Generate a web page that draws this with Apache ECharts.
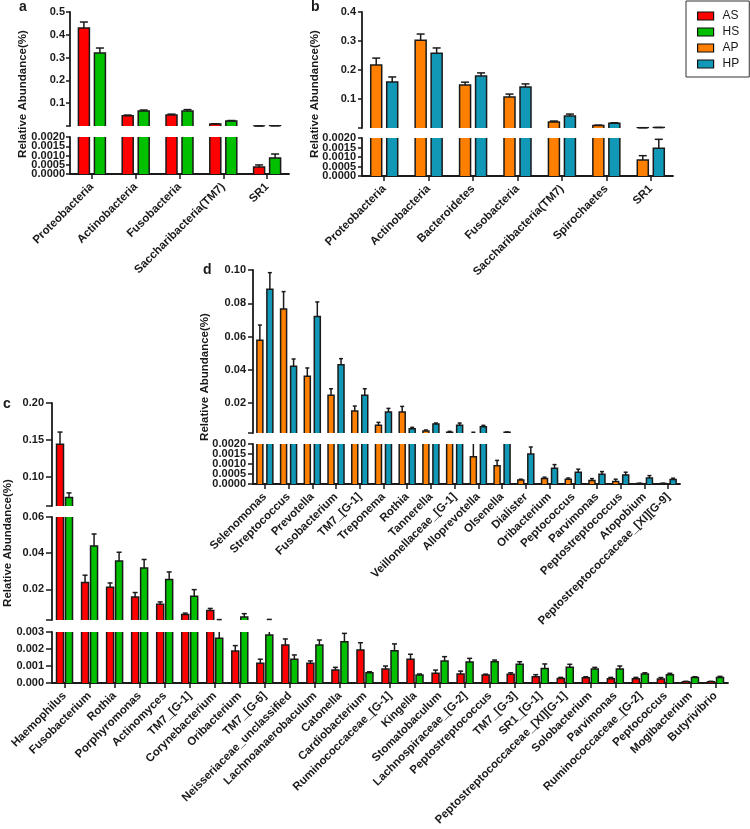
<!DOCTYPE html>
<html>
<head>
<meta charset="utf-8">
<script src="https://cdn.jsdelivr.net/npm/echarts@6/dist/echarts.min.js"></script>
<style>html,body{margin:0;padding:0;background:#fff}#chart{width:750px;height:829px}</style>
</head>
<body>
<div id="chart"></div>
<script>
// ---------- DATA ----------
const aCats = ['Proteobacteria','Actinobacteria','Fusobacteria','Saccharibacteria(TM7)','SR1'];
const aAS    = [0.430, 0.045, 0.048, 0.009, 0.00038];
const aASerr = [0.026, 0.003, 0.004, 0.001, 0.00011];
const aHS    = [0.320, 0.066, 0.066, 0.022, 0.00086];
const aHSerr = [0.022, 0.004, 0.006, 0.002, 0.00022];

const bCats = ['Proteobacteria','Actinobacteria','Bacteroidetes','Fusobacteria','Saccharibacteria(TM7)','Spirochaetes','SR1'];
const bAP    = [0.217, 0.303, 0.148, 0.107, 0.021, 0.009, 0.00084];
const bAPerr = [0.024, 0.021, 0.010, 0.010, 0.003, 0.001, 0.00023];
const bHP    = [0.159, 0.258, 0.179, 0.141, 0.041, 0.016, 0.00146];
const bHPerr = [0.017, 0.018, 0.011, 0.011, 0.007, 0.002, 0.00047];

const dCats = ['Selenomonas','Streptococcus','Prevotella','Fusobacterium','TM7_[G-1]','Treponema','Rothia','Tannerella','Veillonellaceae_[G-1]','Alloprevotella','Olsenella','Dialister','Oribacterium','Peptococcus','Parvimonas','Peptostreptococcus','Atopobium','Peptostreptococcaceae_[XI][G-9]'];
const dAP    = [0.0577, 0.0765, 0.0361, 0.0247, 0.0152, 0.0066, 0.0146, 0.0032, 0.0024, 0.00136, 0.00091, 0.0002, 0.00027, 0.00024, 0.00017, 0.00012, 0.00003, 0.00003];
const dAPerr = [0.0092, 0.0105, 0.0050, 0.0039, 0.0030, 0.0018, 0.0034, 0.0006, 0.0006, 0.0011, 0.00027, 0.00004, 0.00007, 0.00006, 0.0001, 0.00012, 0.00001, 0.00001];
const dHP    = [0.0884, 0.0421, 0.0720, 0.0431, 0.0247, 0.0146, 0.0046, 0.0074, 0.0066, 0.0057, 0.0025, 0.0015, 0.00079, 0.00059, 0.00049, 0.00045, 0.0003, 0.00022];
const dHPerr = [0.0100, 0.0044, 0.0088, 0.0036, 0.0039, 0.0022, 0.0008, 0.0006, 0.0014, 0.0009, 0.0001, 0.00035, 0.00018, 0.00015, 0.00013, 0.00014, 0.00012, 0.00007];

const cCats = ['Haemophilus','Fusobacterium','Rothia','Porphyromonas','Actinomyces','TM7_[G-1]','Corynebacterium','Oribacterium','TM7_[G-6]','Neisseriaceae_unclassified','Lachnoanaerobaculum','Catonella','Cardiobacterium','Ruminococcaceae_[G-1]','Kingella','Stomatobaculum','Lachnospiraceae_[G-2]','Peptostreptococcus','TM7_[G-3]','SR1_[G-1]','Peptostreptococcaceae_[XI][G-1]','Solobacterium','Parvimonas','Ruminococcaceae_[G-2]','Peptococcus','Mogibacterium','Butyrivibrio'];
const cAS    = [0.144, 0.0237, 0.0211, 0.0157, 0.0117, 0.0060, 0.0083, 0.00188, 0.00116, 0.00224, 0.00116, 0.00076, 0.00194, 0.00082, 0.00139, 0.00057, 0.00053, 0.00047, 0.00051, 0.00037, 0.00027, 0.00031, 0.00025, 0.00025, 0.00024, 0.00008, 0.00008];
const cASerr = [0.0165, 0.0041, 0.0024, 0.0025, 0.0013, 0.0008, 0.0011, 0.00032, 0.00024, 0.00035, 0.00014, 0.00016, 0.00043, 0.00018, 0.00030, 0.00019, 0.00017, 0.00005, 0.00009, 0.00012, 0.00006, 0.00006, 0.00008, 0.00008, 0.00008, 0.00002, 0.00002];
const cHS    = [0.0715, 0.0440, 0.0357, 0.0318, 0.0254, 0.0161, 0.00263, 0.0046, 0.00282, 0.0014, 0.00224, 0.00243, 0.0006, 0.0019, 0.00047, 0.0013, 0.00124, 0.00125, 0.0011, 0.00086, 0.00092, 0.00082, 0.00082, 0.00053, 0.00049, 0.00033, 0.00033];
const cHSerr = [0.0063, 0.0066, 0.0048, 0.0047, 0.0042, 0.0037, 0.0006, 0.0019, 0.0005, 0.00025, 0.00029, 0.00049, 0.00006, 0.0004, 0.00006, 0.00025, 0.00021, 0.0001, 0.00015, 0.00026, 0.00018, 0.0001, 0.00018, 0.00007, 0.00008, 0.00004, 0.00006];

const fineTicks = [0, 0.0005, 0.001, 0.0015, 0.002];
const legendNames = ['AS','HS','AP','HP'];
const yTitle = 'Relative Abundance(%)';

// ---------- STYLE ----------
const FONT = '"Liberation Sans", Arial, Helvetica, sans-serif';
const INK = '#1a1a1a';
const COLORS = {AS:'#ff0000', HS:'#00c000', AP:'#ff8000', HP:'#1198b6'};

const grids = [], xAxes = [], yAxes = [], extraY = [], series = [];

function outlineRender(barW, offset, capW) {
  return function (params, api) {
    const cat = api.value(0), v = api.value(1), e = api.value(2);
    const cs = params.coordSys;
    const top = cs.y, bot = cs.y + cs.height;
    const p = api.coord([cat, v]);
    const cx = p[0] + offset;
    const yv = p[1];
    const ye = api.coord([cat, v + e])[1];
    const xl = cx - barW / 2, xr = cx + barW / 2;
    const st = {stroke: INK, lineWidth: 1.5, fill: null};
    const ch = [];
    if (yv < bot) {
      if (yv >= top) {
        ch.push({type: 'polyline', shape: {points: [[xl, bot], [xl, yv], [xr, yv], [xr, bot]]}, style: st});
      } else {
        ch.push({type: 'line', shape: {x1: xl, y1: top, x2: xl, y2: bot}, style: st});
        ch.push({type: 'line', shape: {x1: xr, y1: top, x2: xr, y2: bot}, style: st});
      }
    }
    if (e > 0) {
      const y1 = Math.min(Math.max(yv, top), bot);
      const y2 = Math.min(Math.max(ye, top), bot);
      if (y1 - y2 > 0.1) {
        ch.push({type: 'line', shape: {x1: cx, y1: y1, x2: cx, y2: y2}, style: st});
      }
      if (ye >= top - 0.5 && ye <= bot) {
        ch.push({type: 'line', shape: {x1: cx - capW / 2, y1: ye, x2: cx + capW / 2, y2: ye}, style: st});
      }
    }
    return {type: 'group', children: ch};
  };
}

function labelStyle(s, p, values) {
  return {customValues: values, interval: 0, showMinLabel: true, showMaxLabel: true, hideOverlap: false,
    formatter: (v) => Number(v).toFixed(s.dec), fontSize: 11, fontWeight: 'bold', color: INK,
    margin: p.labMargin, fontFamily: FONT};
}

function addPanel(p) {
  const n = p.groups.length;
  const step = p.barW + p.gap;
  p.segs.forEach((s, si) => {
    const gi = grids.length;
    const isBottom = si === p.segs.length - 1;
    grids.push({left: p.left, top: s.top, width: p.width, height: s.bottom - s.top});
    xAxes.push({
      type: 'category', gridIndex: gi, data: p.cats, show: isBottom,
      axisLine: {show: true, lineStyle: {color: INK, width: 1.8}},
      axisTick: {show: true, alignWithLabel: true, length: 5, lineStyle: {color: INK, width: 1.5}},
      axisLabel: {rotate: 45, interval: 0, hideOverlap: false, fontSize: p.catFont, fontWeight: 'bold', color: INK, margin: 11, fontFamily: FONT},
      splitLine: {show: false}
    });
    // tightly spaced labels are split over two overlaid axes so none gets auto-hidden
    const mainLabels = s.labels2 ? s.labels.filter((v, i) => i % 2 === 0) : s.labels;
    yAxes.push({
      type: 'value', gridIndex: gi, min: s.min, max: s.max, position: 'left',
      splitLine: {show: false},
      axisLine: {show: true, lineStyle: {color: INK, width: 1.8}},
      axisTick: {show: true, length: p.tickLen, lineStyle: {color: INK, width: 1.5}, customValues: s.ticks},
      axisLabel: labelStyle(s, p, mainLabels)
    });
    if (s.labels2) {
      extraY.push({
        type: 'value', gridIndex: gi, min: s.min, max: s.max, position: 'left', offset: 0,
        splitLine: {show: false}, axisLine: {show: false}, axisTick: {show: false},
        axisLabel: labelStyle(s, p, s.labels.filter((v, i) => i % 2 === 1))
      });
    }
    p.groups.forEach((g) => {
      series.push({
        type: 'bar', name: g.name, xAxisIndex: gi, yAxisIndex: gi, data: g.vals,
        barWidth: p.barW, barGap: (p.gap / p.barW * 100) + '%',
        itemStyle: {color: COLORS[g.name], borderWidth: 0}, clip: true, silent: true
      });
    });
    p.groups.forEach((g, k) => {
      const offset = (k - (n - 1) / 2) * step;
      series.push({
        type: 'custom', name: g.name + ' SEM', xAxisIndex: gi, yAxisIndex: gi, z: 3,
        renderItem: outlineRender(p.barW, offset, p.capW),
        data: g.vals.map((v, i) => [i, v, g.errs[i]]), silent: true
      });
    });
  });
}

addPanel({
  left: 70, width: 219, cats: aCats, barW: 11, gap: 5, capW: 8, catFont: 11.5, tickLen: 4, labMargin: 5,
  groups: [{name: 'AS', vals: aAS, errs: aASerr}, {name: 'HS', vals: aHS, errs: aHSerr}],
  segs: [
    {top: 12, bottom: 126, min: 0, max: 0.5, labels: [0.1, 0.2, 0.3, 0.4, 0.5], ticks: [0, 0.1, 0.2, 0.3, 0.4, 0.5], dec: 1},
    {top: 137, bottom: 174, min: 0, max: 0.002, labels: fineTicks, labels2: true, ticks: fineTicks, dec: 4}
  ]
});
addPanel({
  left: 362, width: 311, cats: bCats, barW: 11, gap: 5, capW: 8, catFont: 11.5, tickLen: 4, labMargin: 6,
  groups: [{name: 'AP', vals: bAP, errs: bAPerr}, {name: 'HP', vals: bHP, errs: bHPerr}],
  segs: [
    {top: 12, bottom: 128, min: 0, max: 0.4, labels: [0.1, 0.2, 0.3, 0.4], ticks: [0, 0.1, 0.2, 0.3, 0.4], dec: 1},
    {top: 138, bottom: 176, min: 0, max: 0.002, labels: fineTicks, labels2: true, ticks: fineTicks, dec: 4}
  ]
});
addPanel({
  left: 253, width: 427, cats: dCats, barW: 6, gap: 4, capW: 4, catFont: 11.5, tickLen: 5, labMargin: 7,
  groups: [{name: 'AP', vals: dAP, errs: dAPerr}, {name: 'HP', vals: dHP, errs: dHPerr}],
  segs: [
    {top: 270, bottom: 433, min: 0.002, max: 0.1, labels: [0.02, 0.04, 0.06, 0.08, 0.1], ticks: [0.002, 0.02, 0.04, 0.06, 0.08, 0.1], dec: 2},
    {top: 444, bottom: 484, min: 0, max: 0.002, labels: fineTicks, labels2: true, ticks: fineTicks, dec: 4}
  ]
});
addPanel({
  left: 52, width: 676, cats: cCats, barW: 7, gap: 2, capW: 5, catFont: 11.5, tickLen: 6, labMargin: 8,
  groups: [{name: 'AS', vals: cAS, errs: cASerr}, {name: 'HS', vals: cHS, errs: cHSerr}],
  segs: [
    {top: 403, bottom: 506, min: 0.06, max: 0.2, labels: [0.1, 0.15, 0.2], ticks: [0.06, 0.1, 0.15, 0.2], dec: 2},
    {top: 517, bottom: 620, min: 0.003, max: 0.06, labels: [0.02, 0.04, 0.06], ticks: [0.003, 0.02, 0.04, 0.06], dec: 2},
    {top: 632, bottom: 683, min: 0, max: 0.003, labels: [0, 0.001, 0.002, 0.003], ticks: [0, 0.001, 0.002, 0.003], dec: 3}
  ]
});

function letter(t, x, y) {
  return {type: 'text', x: x, y: y, style: {text: t, fontSize: 14, fontWeight: 'bold', fontFamily: FONT, fill: INK, align: 'left', verticalAlign: 'middle'}};
}
function ytitle(x, y) {
  return {type: 'text', x: x, y: y, rotation: Math.PI / 2, style: {text: yTitle, fontSize: 11.5, fontWeight: 'bold', fontFamily: FONT, fill: INK, align: 'center', verticalAlign: 'middle'}};
}

const option = {
  animation: false,
  backgroundColor: '#fff',
  grid: grids, xAxis: xAxes, yAxis: yAxes.concat(extraY), series: series,
  legend: {
    data: legendNames, orient: 'vertical', left: 686, top: 1,
    padding: [8, 10, 6, 11], itemWidth: 16, itemHeight: 8, itemGap: 2,
    borderColor: '#333', borderWidth: 1, backgroundColor: '#fff', icon: 'rect',
    itemStyle: {borderColor: '#111', borderWidth: 1.2},
    textStyle: {fontSize: 12, color: INK, fontFamily: FONT, lineHeight: 14, padding: [0, 0, 0, 4]},
    selectedMode: false
  },
  graphic: [
    letter('a', 19, 7), letter('b', 311, 7), letter('c', 3, 404), letter('d', 203, 270),
    ytitle(23, 94), ytitle(315, 94), ytitle(205, 377), ytitle(8, 543)
  ]
};

const chart = echarts.init(document.getElementById('chart'), null, {renderer: 'canvas'});
chart.setOption(option);
</script>
</body>
</html>
